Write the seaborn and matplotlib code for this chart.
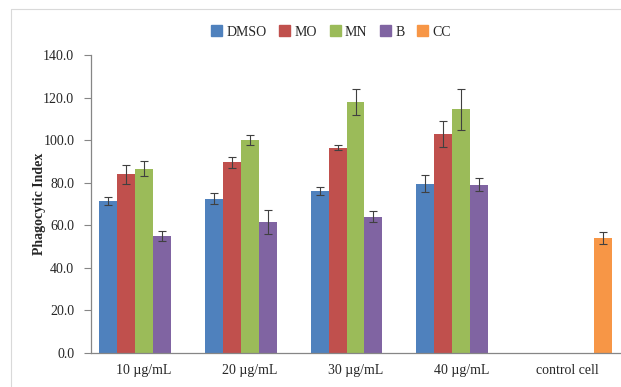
import numpy as np
import pandas as pd
import seaborn as sns
import matplotlib.pyplot as plt
from matplotlib.lines import Line2D
from matplotlib.ticker import FormatStrFormatter

# chart data
groups = ["10 µg/mL", "20 µg/mL", "30 µg/mL", "40 µg/mL", "control cell"]
treatments = ["DMSO", "MO", "MN", "B", "CC"]
dmso = [71.3, 72.5, 76.0, 79.5]
mo = [84.0, 89.5, 96.5, 103.0]
mn = [86.5, 100.0, 118.0, 114.5]
b = [55.0, 61.5, 64.0, 79.0]
cc = [54.0]
dmso_err = [2.0, 2.5, 2.0, 4.0]
mo_err = [4.5, 2.5, 1.0, 6.0]
mn_err = [3.5, 2.5, 6.0, 9.5]
b_err = [2.5, 5.5, 2.5, 3.0]
cc_err = [3.0]
colors = ["#4F81BD", "#C0504D", "#9BBB59", "#8064A2", "#F79646"]

# long table for seaborn
rows = []
for name, vals, errs in [("DMSO", dmso, dmso_err), ("MO", mo, mo_err),
                         ("MN", mn, mn_err), ("B", b, b_err)]:
    for g, v, e in zip(groups[:4], vals, errs):
        rows.append({"group": g, "treatment": name, "value": v, "err": e})
rows.append({"group": groups[4], "treatment": "CC", "value": cc[0], "err": cc_err[0]})
df = pd.DataFrame(rows)

sns.set_style("white")
plt.rcParams["font.family"] = ["Liberation Serif", "DejaVu Serif"]

fig = plt.figure(figsize=(6.21, 3.87), dpi=100)
ax = fig.add_axes([91 / 621, 34 / 387, 529 / 621, 298 / 387])

sns.barplot(data=df, x="group", y="value", hue="treatment", order=groups,
            hue_order=treatments, palette=colors, width=0.85, errorbar=None,
            saturation=1, linewidth=0, legend=False, ax=ax)

# error bars, one container per treatment
for name, cont in zip(treatments, ax.containers):
    sub = df[df["treatment"] == name].set_index("group")
    for bar in cont:
        xc = bar.get_x() + bar.get_width() / 2
        g = groups[int(round(xc))]
        ax.errorbar(xc, bar.get_height(), yerr=sub.loc[g, "err"], fmt="none",
                    ecolor="#404040", elinewidth=0.8, capsize=3, capthick=0.8)

ax.set_xlim(-0.5, len(groups) - 0.5)
ax.set_ylim(0, 140)
ax.set_yticks(np.arange(0, 141, 20))
ax.yaxis.set_major_formatter(FormatStrFormatter("%.1f"))
ax.set_xticks(range(len(groups)))
ax.set_xticklabels(groups)
ax.set_xticks(np.arange(0.5, len(groups), 1), minor=True)
ax.tick_params(axis="x", which="major", length=0, pad=8, labelsize=10)
ax.tick_params(axis="x", which="minor", length=5, direction="out", color="#868686", width=0.8)
ax.tick_params(axis="y", length=5, direction="out", color="#868686", width=0.8,
               left=True, pad=7, labelsize=10)
ax.set_xlabel("")
ax.set_ylabel("Phagocytic Index", fontweight="bold", fontsize=10, labelpad=-2)

for side in ["top", "right"]:
    ax.spines[side].set_visible(False)
for side in ["left", "bottom"]:
    ax.spines[side].set_color("#868686")
    ax.spines[side].set_linewidth(0.9)

handles = [plt.Rectangle((0, 0), 1, 1, color=c) for c in colors]
fig.legend(handles, treatments, loc="center", bbox_to_anchor=(331 / 621, 1 - 32 / 387),
           ncol=5, frameon=False, fontsize=10, handlelength=0.8, handleheight=0.8,
           handletextpad=0.3, columnspacing=0.9)

# chart area border (top and left edges visible)
fig.add_artist(Line2D([11 / 621, 1], [1 - 9 / 387, 1 - 9 / 387], color="#d9d9d9", lw=0.8))
fig.add_artist(Line2D([11 / 621, 11 / 621], [0, 1 - 9 / 387], color="#d9d9d9", lw=0.8))

fig.savefig("out.png", dpi=100)
